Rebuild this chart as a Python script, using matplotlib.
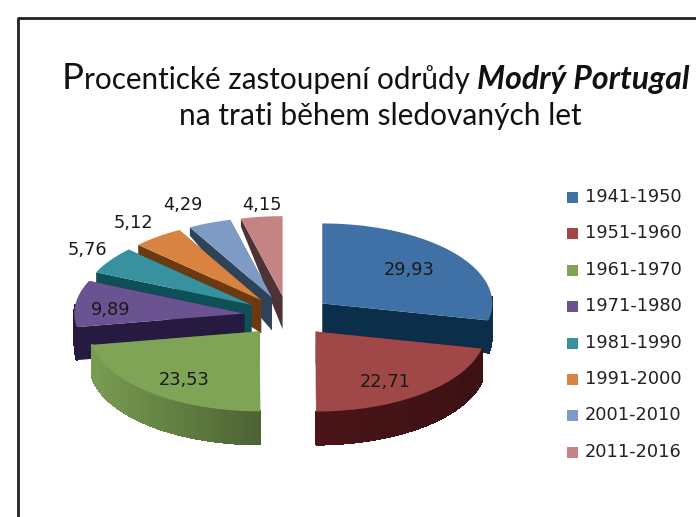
import numpy as np
import matplotlib
matplotlib.use('Agg')
import matplotlib.pyplot as plt
from matplotlib.colors import to_rgb
from matplotlib.patches import Polygon, Rectangle

periods = ['1941-1950', '1951-1960', '1961-1970', '1971-1980',
           '1981-1990', '1991-2000', '2001-2010', '2011-2016']
shares = [29.93, 22.71, 23.53, 9.89, 5.76, 5.12, 4.29, 4.15]
share_labels = ['29,93', '22,71', '23,53', '9,89', '5,76', '5,12', '4,29', '4,15']
top_colors = ['#3f71a6', '#a04747', '#7fa455', '#6b5290',
              '#37919f', '#d8833f', '#7e9bc6', '#c58484']
wall_colors = ['#0b2f4a', '#4a1518', '#4f6b33', '#261a40',
               '#0e4f58', '#6b3a10', '#2f4358', '#4d3335']
# label nudges in pixels, from the automatic position
label_nudge = [(5, -2), (3, 12), (-8, 11), (-29, 3), (5, -1), (-3, -1), (-14, -3), (5, 4)]

W, H = 696, 517
cx, cy = 288, 316      # pie centre, pixels
rx, ry = 170, 80       # ellipse of the top face
ex, ey = 44, 20        # explosion
depth = 33

fig = plt.figure(figsize=(W / 100, H / 100), dpi=100)
ax = fig.add_axes([0, 0, 1, 1])
ax.set_xlim(0, W)
ax.set_ylim(H, 0)
ax.axis('off')

# frame runs off the right and bottom of the picture
ax.plot([17.5, 17.5, W], [H, 17.5, 17.5], color='#222222', lw=2)


def wall_depth(theta):
    # walls look thinner towards the back of the pie
    return np.interp(np.cos(theta), [-1, -0.17, 0.41, 1], [depth, depth, 10, 8])


def shade(c, f):
    return tuple(min(1, x * f) for x in to_rgb(c))


fracs = np.array(shares) / sum(shares) * 2 * np.pi
ends = np.cumsum(fracs)
starts = ends - fracs
mids = (starts + ends) / 2


def draw_slice(i):
    ax0 = cx + ex * np.sin(mids[i])
    ay0 = cy - ey * np.cos(mids[i])
    t = np.linspace(starts[i], ends[i], 60)
    px = ax0 + rx * np.sin(t)
    py = ay0 - ry * np.cos(t)
    # cut faces
    for k in (0, -1):
        d = wall_depth(t[k])
        ax.add_patch(Polygon([(ax0, ay0), (px[k], py[k]), (px[k], py[k] + d), (ax0, ay0 + depth)],
                             closed=True, fc=wall_colors[i], ec='none'))
    # outer wall, front half only
    for k in range(len(t) - 1):
        if np.cos(t[k]) > 0.1:
            continue
        d0, d1 = wall_depth(t[k]), wall_depth(t[k + 1])
        if i == 2:
            c = shade('#7fa455', np.interp(px[k], [93, 262], [0.95, 0.6]))
        elif i == 1:
            c = shade('#4a1518', np.interp(px[k], [316, 490], [1.0, 0.8]))
        else:
            c = wall_colors[i]
        ax.add_patch(Polygon([(px[k], py[k]), (px[k + 1], py[k + 1]),
                              (px[k + 1], py[k + 1] + d1), (px[k], py[k] + d0)],
                             closed=True, fc=c, ec=c, lw=0.8, antialiased=False))
    # top face
    ax.add_patch(Polygon(np.column_stack([np.r_[ax0, px], np.r_[ay0, py]]),
                         closed=True, fc=top_colors[i], ec='none'))


for i in [7, 6, 5, 4, 3, 2, 0, 1]:
    draw_slice(i)

# value labels: inside for the big slices, outside for the small ones
for i, s in enumerate(share_labels):
    ax0, ay0 = cx + ex * np.sin(mids[i]), cy - ey * np.cos(mids[i])
    f = 0.62 if i < 4 else 1.2
    ax.text(ax0 + f * rx * np.sin(mids[i]) + label_nudge[i][0],
            ay0 - f * ry * np.cos(mids[i]) + label_nudge[i][1], s,
            family='DejaVu Sans', fontsize=12.8, color='#1a1a1a', ha='center', va='center')

# legend
for i, p in enumerate(periods):
    y = 197 + i * 36.4
    ax.add_patch(Rectangle((567, y - 5), 11, 11, fc=top_colors[i], ec='none'))
    ax.text(585, y, p, fontsize=12.8, family='DejaVu Sans', color='#222222', va='center', ha='left')

# title
ax.text(62, 89, 'P', family='Lato', fontsize=26.5, color='#111111', va='baseline', ha='left')
ax.text(84, 89, 'rocentické zastoupení odrůdy', family='Lato', fontsize=21.3,
        color='#111111', va='baseline', ha='left')
ax.text(477, 89, 'Modrý Portugal', family='Lato', fontsize=23, fontweight='bold', style='italic',
        color='#111111', va='baseline', ha='left')
ax.text(380, 125, 'na trati během sledovaných let', family='Lato', fontsize=21.5,
        color='#111111', va='baseline', ha='center')

fig.savefig('out.png', dpi=100)
